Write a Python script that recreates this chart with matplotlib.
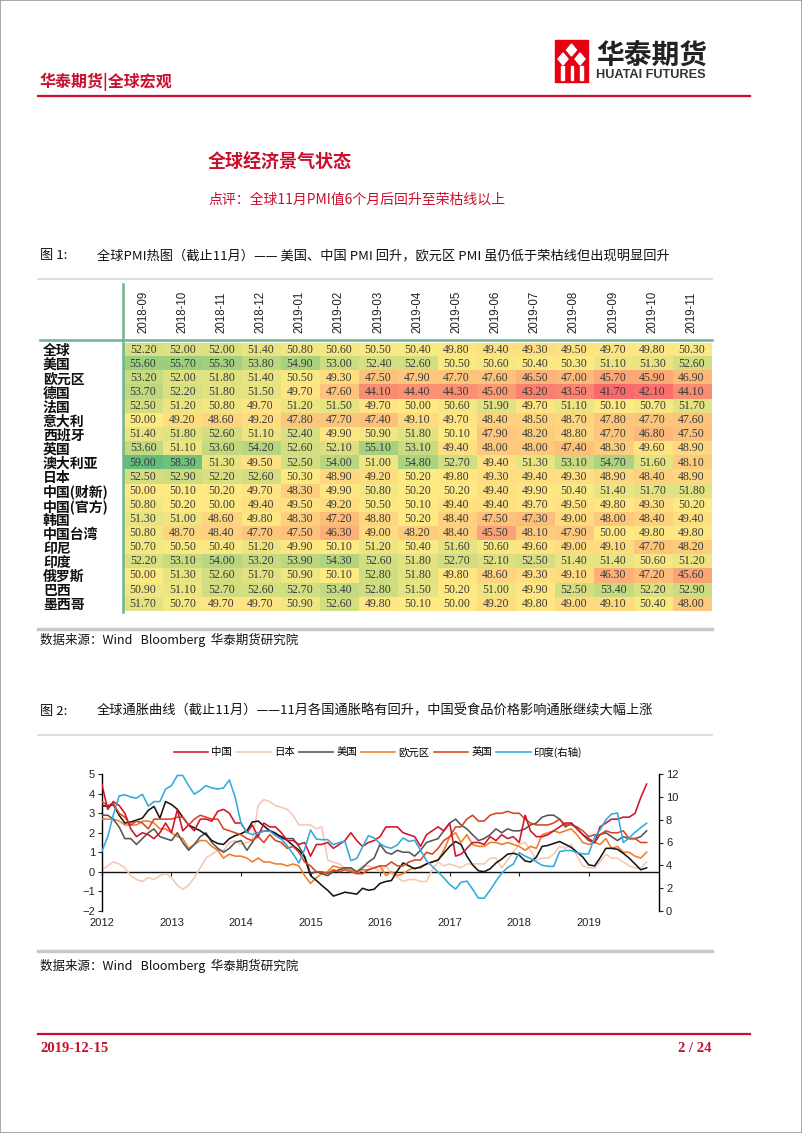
import numpy as np
import pandas as pd
import matplotlib
matplotlib.use("Agg")
import matplotlib.pyplot as plt
from matplotlib.colors import LinearSegmentedColormap, TwoSlopeNorm
from matplotlib.lines import Line2D
from matplotlib.patches import Rectangle, Polygon

plt.rcParams['font.family'] = ['Noto Sans CJK SC', 'DejaVu Sans']

# ---------------------------------
# Figure 1: PMI heat map
# ---------------------------------
months = ["2018-09", "2018-10", "2018-11", "2018-12", "2019-01", "2019-02", "2019-03",
          "2019-04", "2019-05", "2019-06", "2019-07", "2019-08", "2019-09", "2019-10", "2019-11"]
countries = ["全球", "美国", "欧元区", "德国", "法国", "意大利", "西班牙", "英国", "澳大利亚", "日本",
             "中国(财新)", "中国(官方)", "韩国", "中国台湾", "印尼", "印度", "俄罗斯", "巴西", "墨西哥"]

pmi_global    = [52.2, 52.0, 52.0, 51.4, 50.8, 50.6, 50.5, 50.4, 49.8, 49.4, 49.3, 49.5, 49.7, 49.8, 50.3]
pmi_us        = [55.6, 55.7, 55.3, 53.8, 54.9, 53.0, 52.4, 52.6, 50.5, 50.6, 50.4, 50.3, 51.1, 51.3, 52.6]
pmi_euro      = [53.2, 52.0, 51.8, 51.4, 50.5, 49.3, 47.5, 47.9, 47.7, 47.6, 46.5, 47.0, 45.7, 45.9, 46.9]
pmi_germany   = [53.7, 52.2, 51.8, 51.5, 49.7, 47.6, 44.1, 44.4, 44.3, 45.0, 43.2, 43.5, 41.7, 42.1, 44.1]
pmi_france    = [52.5, 51.2, 50.8, 49.7, 51.2, 51.5, 49.7, 50.0, 50.6, 51.9, 49.7, 51.1, 50.1, 50.7, 51.7]
pmi_italy     = [50.0, 49.2, 48.6, 49.2, 47.8, 47.7, 47.4, 49.1, 49.7, 48.4, 48.5, 48.7, 47.8, 47.7, 47.6]
pmi_spain     = [51.4, 51.8, 52.6, 51.1, 52.4, 49.9, 50.9, 51.8, 50.1, 47.9, 48.2, 48.8, 47.7, 46.8, 47.5]
pmi_uk        = [53.6, 51.1, 53.6, 54.2, 52.6, 52.1, 55.1, 53.1, 49.4, 48.0, 48.0, 47.4, 48.3, 49.6, 48.9]
pmi_australia = [59.0, 58.3, 51.3, 49.5, 52.5, 54.0, 51.0, 54.8, 52.7, 49.4, 51.3, 53.1, 54.7, 51.6, 48.1]
pmi_japan     = [52.5, 52.9, 52.2, 52.6, 50.3, 48.9, 49.2, 50.2, 49.8, 49.3, 49.4, 49.3, 48.9, 48.4, 48.9]
pmi_cn_caixin = [50.0, 50.1, 50.2, 49.7, 48.3, 49.9, 50.8, 50.2, 50.2, 49.4, 49.9, 50.4, 51.4, 51.7, 51.8]
pmi_cn_nbs    = [50.8, 50.2, 50.0, 49.4, 49.5, 49.2, 50.5, 50.1, 49.4, 49.4, 49.7, 49.5, 49.8, 49.3, 50.2]
pmi_korea     = [51.3, 51.0, 48.6, 49.8, 48.3, 47.2, 48.8, 50.2, 48.4, 47.5, 47.3, 49.0, 48.0, 48.4, 49.4]
pmi_taiwan    = [50.8, 48.7, 48.4, 47.7, 47.5, 46.3, 49.0, 48.2, 48.4, 45.5, 48.1, 47.9, 50.0, 49.8, 49.8]
pmi_indonesia = [50.7, 50.5, 50.4, 51.2, 49.9, 50.1, 51.2, 50.4, 51.6, 50.6, 49.6, 49.0, 49.1, 47.7, 48.2]
pmi_india     = [52.2, 53.1, 54.0, 53.2, 53.9, 54.3, 52.6, 51.8, 52.7, 52.1, 52.5, 51.4, 51.4, 50.6, 51.2]
pmi_russia    = [50.0, 51.3, 52.6, 51.7, 50.9, 50.1, 52.8, 51.8, 49.8, 48.6, 49.3, 49.1, 46.3, 47.2, 45.6]
pmi_brazil    = [50.9, 51.1, 52.7, 52.6, 52.7, 53.4, 52.8, 51.5, 50.2, 51.0, 49.9, 52.5, 53.4, 52.2, 52.9]
pmi_mexico    = [51.7, 50.7, 49.7, 49.7, 50.9, 52.6, 49.8, 50.1, 50.0, 49.2, 49.8, 49.0, 49.1, 50.4, 48.0]

# ---------------------------------
# Figure 2: CPI yoy, monthly 2012-01 .. 2019-11
# ---------------------------------
cpi_china = [4.5, 3.2, 3.6, 3.4, 3.0, 2.2, 1.8, 2.0, 1.9, 1.7, 2.0, 2.5,
             2.0, 3.2, 2.1, 2.4, 2.1, 2.7, 2.7, 2.6, 3.1, 3.2, 3.0, 2.5,
             2.5, 2.0, 2.4, 1.8, 2.5, 2.3, 2.3, 2.0, 1.6, 1.6, 1.4, 1.5,
             0.8, 1.4, 1.4, 1.5, 1.2, 1.4, 1.6, 2.0, 1.6, 1.3, 1.5, 1.6,
             1.8, 2.3, 2.3, 2.3, 2.0, 1.9, 1.8, 1.3, 1.9, 2.1, 2.3, 2.1,
             2.5, 0.8, 0.9, 1.2, 1.5, 1.5, 1.4, 1.8, 1.6, 1.9, 1.7, 1.8,
             1.5, 2.9, 2.1, 1.8, 1.8, 1.9, 2.1, 2.3, 2.5, 2.5, 2.2, 1.9,
             1.7, 1.5, 2.3, 2.5, 2.7, 2.7, 2.8, 2.8, 3.0, 3.8, 4.5]
cpi_japan = [0.1, 0.3, 0.5, 0.4, 0.2, -0.2, -0.4, -0.5, -0.3, -0.4, -0.2, -0.1,
             -0.3, -0.7, -0.9, -0.7, -0.3, 0.2, 0.7, 0.9, 1.1, 1.1, 1.5, 1.6,
             1.4, 1.5, 1.6, 3.4, 3.7, 3.6, 3.4, 3.3, 3.2, 2.9, 2.4, 2.4,
             2.4, 2.2, 2.3, 0.6, 0.5, 0.4, 0.2, 0.2, 0.0, 0.3, 0.3, 0.2,
             0.0, 0.3, -0.1, -0.3, -0.5, -0.4, -0.4, -0.5, -0.5, 0.1, 0.5, 0.3,
             0.4, 0.3, 0.2, 0.4, 0.4, 0.4, 0.4, 0.7, 0.7, 0.2, 0.6, 1.0,
             1.4, 1.5, 1.1, 0.6, 0.7, 0.7, 0.9, 1.3, 1.2, 1.4, 0.8, 0.3,
             0.2, 0.2, 0.5, 0.9, 0.7, 0.7, 0.5, 0.3, 0.2, 0.2, 0.5]
cpi_us = [2.9, 2.9, 2.7, 2.3, 1.7, 1.7, 1.4, 1.7, 2.0, 2.2, 1.8, 1.7,
          1.6, 2.0, 1.5, 1.1, 1.4, 1.8, 2.0, 1.5, 1.2, 1.0, 1.2, 1.5,
          1.6, 1.1, 1.5, 2.0, 2.1, 2.1, 2.0, 1.7, 1.7, 1.7, 1.3, 0.8,
          -0.1, 0.0, -0.1, -0.2, 0.0, 0.1, 0.2, 0.2, 0.0, 0.2, 0.5, 0.7,
          1.4, 1.0, 0.9, 1.1, 1.0, 1.0, 0.8, 1.1, 1.5, 1.6, 1.7, 2.1,
          2.5, 2.7, 2.4, 2.2, 1.9, 1.6, 1.7, 1.9, 2.2, 2.0, 2.2, 2.1,
          2.1, 2.2, 2.4, 2.5, 2.8, 2.9, 2.9, 2.7, 2.3, 2.5, 2.2, 1.9,
          1.6, 1.5, 1.9, 2.0, 1.8, 1.6, 1.8, 1.7, 1.7, 1.8, 2.1]
cpi_other = [3.4, 3.35, 3.45, 2.9, 2.5, 2.55, 2.65, 2.75, 3.15, 3.35, 2.75, 3.6,
             3.45, 3.2, 2.8, 2.4, 2.25, 2.1, 1.9, 1.6, 1.45, 1.4, 1.7, 1.85,
             1.95, 2.1, 2.55, 2.6, 2.35, 2.1, 1.95, 1.8, 1.6, 1.35, 1.1, 0.75,
             -0.2, -0.45, -0.7, -0.95, -1.25, -1.15, -1.05, -1.1, -1.15, -0.85, -0.95, -0.9,
             -0.6, -0.5, -0.45, 0.05, 0.45, 0.3, 0.15, 0.25, 0.4, 0.5, 0.6, 0.95,
             1.3, 1.55, 1.4, 0.8, 0.35, 0.05, 0.0, 0.15, 0.45, 0.65, 0.9, 0.95,
             0.85, 0.55, 0.5, 0.75, 1.3, 1.35, 1.45, 1.55, 1.4, 1.25, 1.0, 0.75,
             0.35, 0.3, 0.7, 1.2, 1.2, 1.15, 0.95, 0.7, 0.4, 0.1, 0.2]
cpi_euro = [2.7, 2.7, 2.7, 2.6, 2.4, 2.4, 2.4, 2.6, 2.6, 2.5, 2.2, 2.2,
            2.0, 1.8, 1.7, 1.2, 1.4, 1.6, 1.6, 1.3, 1.1, 0.7, 0.9, 0.8,
            0.8, 0.7, 0.5, 0.7, 0.5, 0.5, 0.4, 0.4, 0.3, 0.4, 0.3, -0.2,
            -0.6, -0.3, -0.1, 0.0, 0.3, 0.2, 0.2, 0.1, -0.1, 0.1, 0.1, 0.2,
            0.3, -0.2, 0.0, -0.2, -0.1, 0.1, 0.2, 0.2, 0.4, 0.5, 0.6, 1.1,
            1.8, 2.0, 1.5, 1.9, 1.4, 1.3, 1.3, 1.5, 1.5, 1.4, 1.5, 1.4,
            1.3, 1.1, 1.3, 1.2, 1.9, 2.0, 2.1, 2.0, 2.1, 2.2, 1.9, 1.5,
            1.4, 1.5, 1.4, 1.7, 1.2, 1.3, 1.0, 1.0, 0.8, 0.7, 1.0]
cpi_uk = [3.6, 3.4, 3.5, 3.0, 2.8, 2.4, 2.6, 2.5, 2.2, 2.7, 2.7, 2.7,
          2.7, 2.8, 2.8, 2.4, 2.7, 2.9, 2.8, 2.7, 2.7, 2.2, 2.1, 2.0,
          1.9, 1.7, 1.6, 1.8, 1.5, 1.9, 1.6, 1.5, 1.2, 1.3, 1.0, 0.5,
          0.3, 0.0, 0.0, -0.1, 0.1, 0.0, 0.1, 0.0, -0.1, -0.1, 0.1, 0.2,
          0.3, 0.3, 0.5, 0.3, 0.3, 0.5, 0.6, 0.6, 1.0, 0.9, 1.2, 1.6,
          1.8, 2.3, 2.3, 2.7, 2.9, 2.6, 2.6, 2.9, 3.0, 3.0, 3.1, 3.0,
          3.0, 2.7, 2.5, 2.4, 2.4, 2.4, 2.5, 2.7, 2.4, 2.4, 2.3, 2.1,
          1.8, 1.9, 1.9, 2.1, 2.0, 2.0, 2.1, 1.7, 1.7, 1.5, 1.5]
cpi_india = [5.2, 6.5, 8.4, 10.1, 10.2, 10.0, 9.9, 10.25, 9.2, 9.6, 9.6, 10.7,
             11.0, 11.9, 11.9, 11.0, 10.25, 10.6, 11.0, 10.8, 10.7, 10.8, 11.5, 10.0,
             7.7, 6.9, 6.7, 6.8, 7.0, 7.0, 6.6, 6.3, 5.7, 5.0, 4.2, 5.4,
             7.1, 6.3, 6.25, 6.25, 5.8, 6.0, 6.1, 4.4, 4.6, 5.6, 6.6, 6.4,
             5.9, 5.6, 5.5, 5.8, 6.4, 6.1, 6.2, 5.3, 4.4, 3.9, 3.4, 2.9,
             2.3, 1.9, 2.5, 2.6, 1.9, 1.1, 1.1, 1.8, 2.6, 3.3, 3.8, 4.1,
             5.1, 4.8, 4.6, 4.3, 4.0, 3.9, 3.9, 5.2, 5.3, 5.3, 5.1, 5.0,
             5.0, 6.5, 7.1, 8.0, 8.5, 8.6, 6.0, 6.4, 6.9, 7.3, 7.7]

W, H = 802, 1133
RED = "#c8102e"
GREEN = "#6fb48e"


def fx(x):
    return x / W


def fy(y):
    return 1 - y / H


fig = plt.figure(figsize=(W / 100, H / 100), dpi=100)


def ptext(x, y, s, **kw):
    fig.text(fx(x), fy(y), s, **kw)


def hline(x0, x1, y, **kw):
    fig.add_artist(Line2D([fx(x0), fx(x1)], [fy(y), fy(y)], transform=fig.transFigure, **kw))


# page frame
fig.add_artist(Rectangle((0, 0), 1, 1, fill=False, edgecolor="#9a9a9a", lw=1.2,
                         transform=fig.transFigure))

# ---- header ----
ptext(40, 82, "华泰期货|全球宏观", color=RED, fontsize=11.5, fontweight="bold", va="center")
hline(38, 750, 96, color=RED, lw=1.6)

# logo mark
fig.add_artist(Rectangle((fx(555), fy(82)), fx(33), 42 / H, color="#e60012",
                         transform=fig.transFigure))
for cx, cy in [(571.5, 50), (563, 59), (580, 59)]:
    fig.add_artist(Polygon([(fx(cx - 5), fy(cy)), (fx(cx), fy(cy - 6)),
                            (fx(cx + 5), fy(cy)), (fx(cx), fy(cy + 6))],
                           color="white", transform=fig.transFigure))
for bx in [561, 570.5, 580]:
    fig.add_artist(Rectangle((fx(bx), fy(80)), fx(2.5), 14 / H, color="white",
                             transform=fig.transFigure))
ptext(596, 56, "华泰期货", color="#222222", fontsize=20, fontweight="bold", va="center")
ptext(596, 75, "HUATAI FUTURES", color="#333333", fontsize=9.2, fontweight="bold", va="center",
      family="Liberation Sans")

# ---- titles ----
ptext(208, 162, "全球经济景气状态", color=RED, fontsize=13, fontweight="bold", va="center")
ptext(208, 200, "点评：全球11月PMI值6个月后回升至荣枯线以上", color=RED, fontsize=10, va="center")

ptext(40, 256, "图 1:", fontsize=9.5, va="center", color="#111111")
ptext(97, 256, "全球PMI热图（截止11月）—— 美国、中国 PMI 回升，欧元区 PMI 虽仍低于荣枯线但出现明显回升",
      fontsize=9.5, va="center", color="#111111")
hline(38, 712, 279, color="#d8d8d8", lw=1.2)

# ---- heat map ----
pmi = np.array([pmi_global, pmi_us, pmi_euro, pmi_germany, pmi_france, pmi_italy, pmi_spain,
                pmi_uk, pmi_australia, pmi_japan, pmi_cn_caixin, pmi_cn_nbs, pmi_korea,
                pmi_taiwan, pmi_indonesia, pmi_india, pmi_russia, pmi_brazil, pmi_mexico])
cmap = LinearSegmentedColormap.from_list("ryg", ["#f8696b", "#ffeb84", "#63be7b"])
norm = TwoSlopeNorm(vmin=pmi.min(), vcenter=np.median(pmi), vmax=pmi.max())

top, bot = 342.6, 610.7
ax1 = fig.add_axes([fx(123.5), fy(bot), fx(711 - 123.5), (bot - top) / H])
ax1.imshow(pmi, cmap=cmap, norm=norm, aspect="auto", interpolation="nearest")
for i in range(pmi.shape[0]):
    for j in range(pmi.shape[1]):
        ax1.text(j, i, f"{pmi[i, j]:.2f}", ha="center", va="center", fontsize=8.6,
                 family="Liberation Serif", color="#3b3b3b")
ax1.set_xticks(range(len(months)))
ax1.set_xticklabels(months, rotation=90, fontsize=8.3, family="Liberation Sans", color="#222222")
ax1.xaxis.tick_top()
ax1.tick_params(axis="x", length=0, pad=7)
ax1.set_yticks(range(len(countries)))
ax1.set_yticklabels(countries, fontsize=10, fontweight="bold", color="#111111")
for lbl in ax1.get_yticklabels():
    lbl.set_horizontalalignment("left")
ax1.tick_params(axis="y", length=0, pad=58)
for s in ax1.spines.values():
    s.set_visible(False)

hline(40, 712, 340.5, color=GREEN, lw=1.8)
fig.add_artist(Line2D([fx(123), fx(123)], [fy(284), fy(612)], transform=fig.transFigure,
                      color=GREEN, lw=1.8))
hline(38, 712, 629, color="#c8c8c8", lw=2.5)

ptext(40, 640, "数据来源：Wind   Bloomberg  华泰期货研究院", fontsize=9, va="center", color="#111111")

# ---- inflation chart ----
ptext(40, 711, "图 2:", fontsize=9.5, va="center", color="#111111")
ptext(97, 711, "全球通胀曲线（截止11月）——11月各国通胀略有回升，中国受食品价格影响通胀继续大幅上涨",
      fontsize=9.5, va="center", color="#111111")
hline(38, 712, 735, color="#d8d8d8", lw=1.2)

dates = pd.date_range("2012-01-01", periods=len(cpi_china), freq="MS")
ax2 = fig.add_axes([fx(101.8), fy(910.7), fx(659 - 101.8), (910.7 - 774.3) / H])
ax3 = ax2.twinx()

lw = 1.15
l_cn, = ax2.plot(dates, cpi_china, color="#d0122c", lw=lw, label="中国", zorder=6)
l_jp, = ax2.plot(dates, cpi_japan, color="#f5c8b2", lw=lw, label="日本", zorder=2)
l_us, = ax2.plot(dates, cpi_us, color="#555555", lw=lw, label="美国", zorder=4)
ax2.plot(dates, cpi_other, color="#161616", lw=lw, zorder=4)
l_ez, = ax2.plot(dates, cpi_euro, color="#f07c26", lw=lw, label="欧元区", zorder=3)
l_uk, = ax2.plot(dates, cpi_uk, color="#d9441f", lw=lw, label="英国", zorder=5)
l_in, = ax3.plot(dates, cpi_india, color="#33a9dc", lw=lw, label="印度(右轴)")

ax2.set_ylim(-2, 5)
ax3.set_ylim(0, 12)
ax2.set_yticks(range(-2, 6))
ax3.set_yticks(range(0, 13, 2))
ax2.set_xlim(pd.Timestamp("2012-01-01"), pd.Timestamp("2020-01-05"))
ax2.set_xticks([pd.Timestamp(f"{y}-01-01") for y in range(2012, 2020)])
ax2.set_xticklabels([str(y) for y in range(2012, 2020)])
ax2.axhline(0, color="#111111", lw=1.0, zorder=1)

ax2.spines["top"].set_visible(False)
ax2.spines["right"].set_visible(False)
ax2.spines["bottom"].set_position(("data", 0))
ax2.spines["bottom"].set_visible(False)
ax3.spines["top"].set_visible(False)
ax3.spines["left"].set_visible(False)
ax3.spines["bottom"].set_visible(False)
for a in (ax2, ax3):
    a.patch.set_visible(False)
ax2.spines["left"].set_linewidth(1.0)
ax3.spines["right"].set_linewidth(1.0)
ax2.tick_params(axis="x", direction="out", length=3, width=0.8, pad=30, labelsize=8,
                labelfontfamily="Liberation Sans", colors="#222222")
ax2.tick_params(axis="y", length=3, width=0.8, pad=2, labelsize=8,
                labelfontfamily="Liberation Sans", colors="#222222")
ax3.tick_params(axis="y", length=3, width=0.8, pad=2, labelsize=8,
                labelfontfamily="Liberation Sans", colors="#222222")

fig.legend([l_cn, l_jp, l_us, l_ez, l_uk, l_in], ["中国", "日本", "美国", "欧元区", "英国", "印度(右轴)"],
           loc="center", bbox_to_anchor=(fx(378), fy(752)), ncol=6, frameon=False, fontsize=7.5,
           handlelength=3.3, handletextpad=0.3, columnspacing=0.4)

hline(38, 712, 951, color="#c8c8c8", lw=2.5)
ptext(40, 966, "数据来源：Wind   Bloomberg  华泰期货研究院", fontsize=9, va="center", color="#111111")

# ---- footer ----
hline(38, 750, 1034, color=RED, lw=1.6)
ptext(40, 1048, "2019-12-15", color=RED, fontsize=10.5, fontweight="bold", va="center",
      family="Liberation Serif")
ptext(712, 1048, "2 / 24", color=RED, fontsize=10.5, fontweight="bold", va="center", ha="right",
      family="Liberation Serif")

fig.savefig("out.png", dpi=100)
